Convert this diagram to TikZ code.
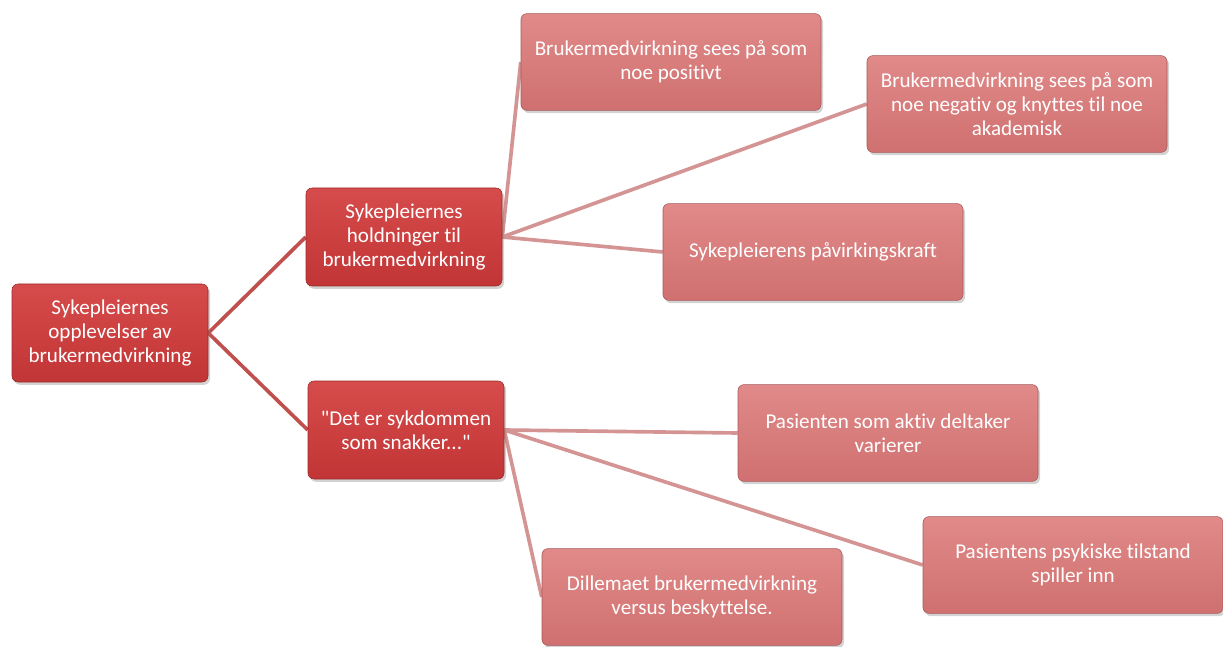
\documentclass[tikz,border=0pt]{standalone}
\usepackage{fontspec}
\newfontfamily\boxfont{Carlito}[Ligatures={NoCommon}]
\usetikzlibrary{shadows,backgrounds}
\definecolor{darkbox}{HTML}{C23536}
\definecolor{darktop}{HTML}{D64B4B}
\definecolor{lightbox}{HTML}{D07070}
\definecolor{lighttop}{HTML}{E08A89}
\definecolor{rootline}{HTML}{C0504D}
\definecolor{leafline}{HTML}{D49494}
\begin{document}
\begin{tikzpicture}
    \tikzset{
        topic/.style={
            rounded corners=1.5mm,
            draw=darkbox!80!black,
            top color=darktop,
            bottom color=darkbox,
            text=white,
            align=center,
            minimum width=4.9cm,
            minimum height=2.45cm,
            drop shadow={opacity=0.35,shadow xshift=0.5mm,shadow yshift=-0.7mm},
            font=\boxfont\fontsize{15}{17.3}\selectfont
        },
        leaf/.style={
            topic,
            draw=lightbox!80!black,
            top color=lighttop,
            bottom color=lightbox,
            minimum width=7.5cm,
            minimum height=2.42cm
        },
        rootlink/.style={draw=rootline,line width=2.6pt},
        leaflink/.style={draw=leafline,line width=2.6pt}
    }
    \useasboundingbox (0,0) rectangle (30.575,-16.175);
    % venstre nivå
    \node[topic] (opplevelser) at (2.75,-8.325)
        {Sykepleiernes\\opplevelser av\\brukermedvirkning};
    \node[topic] (holdninger) at (10.1,-5.925)
        {Sykepleiernes\\holdninger til\\brukermedvirkning};
    \node[topic] (sykdommen) at (10.15,-10.75)
        {"Det er sykdommen\\som snakker..."};
    % høyre nivå
    \node[leaf] (positivt) at (16.775,-1.55)
        {Brukermedvirkning sees på som\\noe positivt};
    \node[leaf] (negativt) at (25.425,-2.6)
        {Brukermedvirkning sees på som\\noe negativ og knyttes til noe\\akademisk};
    \node[leaf] (kraft) at (20.325,-6.3)
        {Sykepleierens påvirkingskraft};
    \node[leaf] (deltaker) at (22.2,-10.825)
        {Pasienten som aktiv deltaker\\varierer};
    \node[leaf] (tilstand) at (26.825,-14.125)
        {Pasientens psykiske tilstand\\spiller inn};
    \node[leaf] (dilemma) at (17.3,-14.925)
        {Dillemaet brukermedvirkning\\versus beskyttelse.};
    \begin{pgfonlayer}{background}
        \draw[rootlink] (opplevelser.east) -- (holdninger.west);
        \draw[rootlink] (opplevelser.east) -- (sykdommen.west);
        \foreach \t in {positivt,negativt,kraft}
            \draw[leaflink] (holdninger.east) -- (\t.west);
        \foreach \t in {deltaker,tilstand,dilemma}
            \draw[leaflink] (sykdommen.east) -- (\t.west);
    \end{pgfonlayer}
\end{tikzpicture}
\end{document}
